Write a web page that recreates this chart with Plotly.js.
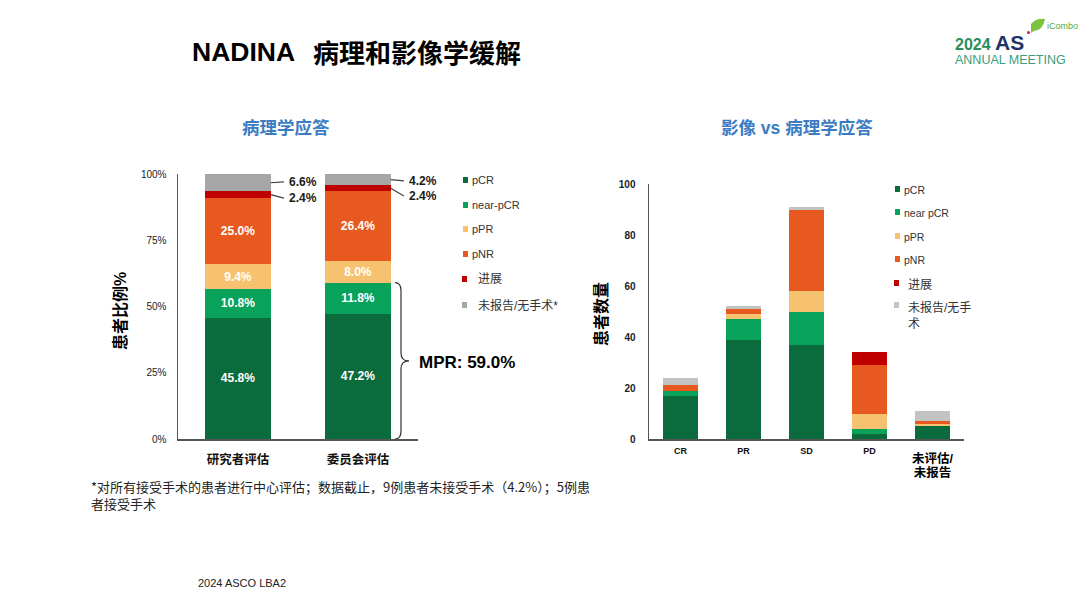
<!DOCTYPE html>
<html>
<head>
<meta charset="utf-8">
<script src="https://cdn.plot.ly/plotly-3.0.1.min.js"></script>
<style>html,body{margin:0;padding:0;background:#fff;}#chart{width:1080px;height:608px;}</style>
</head>
<body>
<div id="chart"></div>
<script>
// ---- data: left chart (pathological response, %) ----
const cats1 = ['研究者评估', '委员会评估'];
const pCR1  = [45.8, 47.2];
const near1 = [10.8, 11.8];
const pPR1  = [9.4, 8.0];
const pNR1  = [25.0, 26.4];
const prog1 = [2.4, 2.4];
const nr1   = [6.6, 4.2];
const ticks1 = [0, 25, 50, 75, 100];
const tickText1 = ['0%', '25%', '50%', '75%', '100%'];

// ---- data: right chart (imaging vs pathological response, patients) ----
const cats2 = ['CR', 'PR', 'SD', 'PD', '未评估/未报告'];
const pCR2  = [17, 39, 37, 2, 5];
const near2 = [2, 8, 13, 2, 0];
const pPR2  = [0, 2, 8, 6, 1];
const pNR2  = [2, 2, 32, 19, 1];
const prog2 = [0, 0, 0, 5, 0];
const nr2   = [3, 1, 1, 0, 4];

const names1 = ['pCR', 'near-pCR', 'pPR', 'pNR', '进展', '未报告/无手术*'];
const names2 = ['pCR', 'near pCR', 'pPR', 'pNR', '进展', '未报告/无手<br>术'];

// ---- styles ----
const SANS = '"Liberation Sans", Arial, "Noto Sans CJK SC", sans-serif';
const colors1 = ['#0a6b3d', '#08a25b', '#f6c270', '#e8591f', '#c00000', '#a6a6a6'];
const colors2 = ['#0a6b3d', '#08a25b', '#f6c270', '#e8591f', '#c00000', '#c3c3c3'];
const W = 1080, H = 608;
const X = p => p / W, Y = p => 1 - p / H;

const series1 = [pCR1, near1, pPR1, pNR1, prog1, nr1];
const series2 = [pCR2, near2, pPR2, pNR2, prog2, nr2];

const traces = [];
series1.forEach((vals, k) => {
  traces.push({
    type: 'bar', x: cats1, y: vals, name: names1[k], xaxis: 'x', yaxis: 'y',
    width: 0.545, marker: {color: colors1[k], line: {width: 0}},
    texttemplate: k < 4 ? '%{y:.1f}%' : '', textposition: k < 4 ? 'inside' : 'none',
    insidetextanchor: 'middle', constraintext: 'none',
    textfont: {color: '#ffffff', size: 12, family: SANS, weight: 'bold'},
    hoverinfo: 'skip'
  });
});
series2.forEach((vals, k) => {
  traces.push({
    type: 'bar', x: cats2, y: vals, name: names2[k], xaxis: 'x2', yaxis: 'y2',
    width: 0.57, marker: {color: colors2[k], line: {width: 0}},
    textposition: 'none', hoverinfo: 'skip'
  });
});

const annotations = [];
const shapes = [];

// main title
annotations.push({xref: 'paper', yref: 'paper', x: X(190), y: Y(52), xanchor: 'left', yanchor: 'middle',
  text: 'NADINA', showarrow: false,
  font: {family: '"Liberation Sans", Arial, sans-serif', size: 26.5, color: '#000', weight: 'bold'}});
annotations.push({xref: 'paper', yref: 'paper', x: X(311), y: Y(52), xanchor: 'left', yanchor: 'middle',
  text: '病理和影像学缓解', showarrow: false,
  font: {family: '"Noto Sans CJK SC", sans-serif', size: 26, color: '#000', weight: 'bold'}});
// chart titles
annotations.push({xref: 'paper', yref: 'paper', x: X(285.5), y: Y(128), xanchor: 'center', yanchor: 'middle',
  text: '病理学应答', showarrow: false, font: {family: SANS, size: 17.5, color: '#3c7cc3', weight: 'bold'}});
annotations.push({xref: 'paper', yref: 'paper', x: X(796.5), y: Y(128), xanchor: 'center', yanchor: 'middle',
  text: '影像 vs 病理学应答', showarrow: false, font: {family: SANS, size: 17.5, color: '#3c7cc3', weight: 'bold'}});

// axis titles
annotations.push({xref: 'paper', yref: 'paper', x: X(120), y: Y(311), textangle: -90, xanchor: 'center', yanchor: 'middle',
  text: '患者比例%', showarrow: false, font: {family: SANS, size: 16, color: '#000', weight: 'bold'}});
annotations.push({xref: 'paper', yref: 'paper', x: X(601), y: Y(314), textangle: -90, xanchor: 'center', yanchor: 'middle',
  text: '患者数量', showarrow: false, font: {family: SANS, size: 16, color: '#000', weight: 'bold'}});

// outside labels for progression / not reported (left chart)
const half1 = 0.2725;
const labelShift = [[0.3, -1.3], [-0.5, -2.9]];
cats1.forEach((c, i) => {
  const nrMid = 100 - nr1[i] / 2;
  const prMid = 100 - nr1[i] - prog1[i] / 2;
  const pts = [[nrMid, nrMid + labelShift[i][0], nr1[i]], [prMid, prMid + labelShift[i][1], prog1[i]]];
  pts.forEach(([mid, lab, v]) => {
    shapes.push({type: 'line', xref: 'x', yref: 'y', x0: i + half1, y0: mid, x1: i + half1 + 0.11, y1: lab,
      line: {color: '#404040', width: 1.2}});
    annotations.push({xref: 'x', yref: 'y', x: i + half1 + 0.135, y: lab, xanchor: 'left', yanchor: 'middle',
      text: v.toFixed(1) + '%', showarrow: false, font: {family: SANS, size: 12, color: '#1a1a1a', weight: 'bold'}});
  });
});

// MPR brace
const mpr = pCR1[1] + near1[1];
{
  const x0 = X(395), x1 = X(401), x2 = X(409);
  const yt = mpr, yb = 0, ym = mpr / 2, d = 3;
  const path = `M ${x0},${yt} Q ${x1},${yt} ${x1},${yt - d} L ${x1},${ym + d} Q ${x1},${ym} ${x2},${ym} ` +
               `Q ${x1},${ym} ${x1},${ym - d} L ${x1},${yb + d} Q ${x1},${yb} ${x0},${yb}`;
  shapes.push({type: 'path', xref: 'paper', yref: 'y', path: path, line: {color: '#333', width: 1.2}});
  annotations.push({xref: 'paper', yref: 'y', x: X(417), y: ym - 0.5, xanchor: 'left', yanchor: 'middle',
    text: 'MPR: ' + mpr.toFixed(1) + '%', showarrow: false, font: {family: SANS, size: 17, color: '#000', weight: 'bold'}});
}

// last category label of right chart (two lines, larger)
annotations.push({xref: 'x2', yref: 'paper', x: 4, y: Y(449), xanchor: 'center', yanchor: 'top',
  text: '<span style="font-size:12.5px">未评估/</span><br><span style="font-size:12.5px">未报告</span>', showarrow: false,
  font: {family: SANS, size: 10.5, color: '#000', weight: 'bold'}});

// legends
const leg1Y = [180, 205, 229, 254, 279, 305];
names1.forEach((n, k) => {
  const cjk = k >= 4;
  const sx = cjk ? 462 : 463;
  shapes.push({type: 'rect', xref: 'paper', yref: 'paper', x0: X(sx), x1: X(sx + 5), y0: Y(leg1Y[k] + 3), y1: Y(leg1Y[k] - 3),
    fillcolor: colors1[k], line: {width: 0}});
  annotations.push({xref: 'paper', yref: 'paper', x: X(cjk ? 476 : 470), y: Y(leg1Y[k]), xanchor: 'left', yanchor: 'middle',
    text: n, showarrow: false, font: {family: SANS, size: cjk ? 12 : 11, color: '#333'}});
});
const leg2Y = [189, 212, 236, 259, 283, 305];
names2.forEach((n, k) => {
  const cjk = k >= 4;
  const sx = cjk ? 894 : 895;
  shapes.push({type: 'rect', xref: 'paper', yref: 'paper', x0: X(sx), x1: X(sx + 5), y0: Y(leg2Y[k] + 3), y1: Y(leg2Y[k] - 3),
    fillcolor: colors2[k], line: {width: 0}});
  annotations.push({xref: 'paper', yref: 'paper', x: X(cjk ? 906 : 902), y: Y(leg2Y[k] - 7), xanchor: 'left', yanchor: 'top',
    text: n, showarrow: false, align: 'left', font: {family: SANS, size: cjk ? 12 : 10.5, color: '#333'}});
});

// footnote and source
annotations.push({xref: 'paper', yref: 'paper', x: X(89), y: Y(475), xanchor: 'left', yanchor: 'top', align: 'left',
  text: '*对所有接受手术的患者进行中心评估；数据截止，9例患者未接受手术（4.2%）；5例患<br>者接受手术', showarrow: false,
  font: {family: '"Noto Sans CJK SC", sans-serif', size: 13, color: '#222'}});
annotations.push({xref: 'paper', yref: 'paper', x: X(196), y: Y(583), xanchor: 'left', yanchor: 'middle',
  text: '2024 ASCO LBA2', showarrow: false, font: {family: SANS, size: 11, color: '#222'}});

// logo
annotations.push({xref: 'paper', yref: 'paper', x: X(953), y: Y(29), xanchor: 'left', yanchor: 'top', align: 'left',
  text: '<b><span style="color:#2b8e5c;font-size:16px">2024 </span><span style="color:#1d3468;font-size:21px">AS</span></b>' +
        '<br><span style="color:#3a9d7d;font-size:12.5px">ANNUAL MEETING</span>',
  showarrow: false, font: {family: SANS, size: 10.5, color: '#3a9d7d'}});
annotations.push({xref: 'paper', yref: 'paper', x: X(1045), y: Y(26), xanchor: 'left', yanchor: 'middle',
  text: 'iCombo', showarrow: false, font: {family: SANS, size: 9, color: '#5aa83a'}});
shapes.push({type: 'path', xref: 'paper', yref: 'paper',
  path: `M ${X(1031)},${Y(33)} L ${X(1031)},${Y(24)} Q ${X(1036)},${Y(18)} ${X(1045)},${Y(19)} Q ${X(1043)},${Y(30)} ${X(1034)},${Y(31)} Z`,
  fillcolor: '#7cc242', line: {width: 0}});
shapes.push({type: 'circle', xref: 'paper', yref: 'paper', x0: X(1027), x1: X(1030), y0: Y(34), y1: Y(31),
  fillcolor: '#d02030', line: {width: 0}});

const axLine = '#555555';
const layout = {
  width: W, height: H,
  margin: {l: 0, r: 0, t: 0, b: 0},
  paper_bgcolor: '#ffffff', plot_bgcolor: 'rgba(0,0,0,0)',
  showlegend: false, barmode: 'stack',
  font: {family: SANS},
  xaxis: {
    domain: [X(178), X(418)], anchor: 'y', type: 'category', range: [-0.5, 1.5],
    showline: true, linecolor: axLine, linewidth: 1.5, ticks: '', showgrid: false, zeroline: false,
    tickfont: {family: SANS, size: 12.5, color: '#111', weight: 'bold'}, ticklabelstandoff: 8, fixedrange: true
  },
  yaxis: {
    domain: [Y(439), Y(174)], anchor: 'x', range: [0, 100],
    tickmode: 'array', tickvals: ticks1, ticktext: tickText1,
    showline: true, linecolor: axLine, linewidth: 1.5, ticks: '', showgrid: false, zeroline: false,
    tickfont: {family: SANS, size: 10, color: '#222'}, ticklabelstandoff: 8, fixedrange: true
  },
  xaxis2: {
    domain: [X(649), X(964)], anchor: 'y2', type: 'category', range: [-0.5, 4.5],
    tickmode: 'array', tickvals: [0, 1, 2, 3], ticktext: cats2.slice(0, 4),
    showline: true, linecolor: axLine, linewidth: 1.5, ticks: '', showgrid: false, zeroline: false,
    tickfont: {family: SANS, size: 9, color: '#111', weight: 'bold'}, ticklabelstandoff: 3, fixedrange: true
  },
  yaxis2: {
    domain: [Y(439), Y(184)], anchor: 'x2', range: [0, 100], dtick: 20,
    showline: true, linecolor: axLine, linewidth: 1.5, ticks: '', showgrid: false, zeroline: false,
    tickfont: {family: SANS, size: 10, color: '#222', weight: 'bold'}, ticklabelstandoff: 10, fixedrange: true
  },
  annotations: annotations,
  shapes: shapes
};

Plotly.newPlot('chart', traces, layout, {displayModeBar: false, staticPlot: true});
</script>
</body>
</html>
